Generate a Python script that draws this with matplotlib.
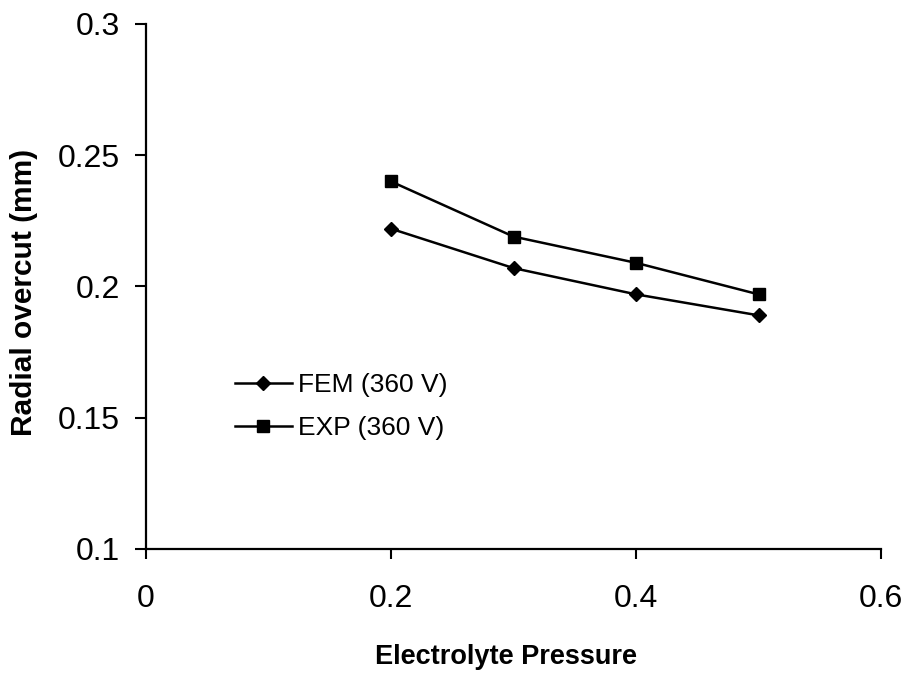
import matplotlib.pyplot as plt

plt.rcParams['font.family'] = ['Liberation Sans', 'DejaVu Sans']

pressure = [0.2, 0.3, 0.4, 0.5]
fem_overcut = [0.222, 0.207, 0.197, 0.189]
exp_overcut = [0.240, 0.219, 0.209, 0.197]

fig = plt.figure(figsize=(9.11, 6.79), dpi=100)
ax = fig.add_axes([0.1603, 0.1915, 0.8068, 0.7732])

ax.plot(pressure, fem_overcut, color='black', lw=1.8, marker='D', ms=7, label='FEM (360 V)')
ax.plot(pressure, exp_overcut, color='black', lw=1.8, marker='s', ms=8, label='EXP (360 V)')

ax.set_xlim(0, 0.6)
ax.set_ylim(0.1, 0.3)
ax.set_xticks([0, 0.2, 0.4, 0.6])
ax.set_xticklabels(['0', '0.2', '0.4', '0.6'])
ax.set_yticks([0.1, 0.15, 0.2, 0.25, 0.3])
ax.set_yticklabels(['0.1', '0.15', '0.2', '0.25', '0.3'])

ax.spines['top'].set_visible(False)
ax.spines['right'].set_visible(False)
for s in ['left', 'bottom']:
    ax.spines[s].set_linewidth(1.6)
ax.tick_params(axis='x', labelsize=23, width=1.5, length=7, pad=18)
ax.tick_params(axis='y', labelsize=23, width=1.5, length=8, pad=11)

ax.set_xlabel('Electrolyte Pressure', fontsize=19.5, fontweight='bold', va='center')
ax.xaxis.set_label_coords(0.49, -0.206)
ax.set_ylabel('Radial overcut (mm)', fontsize=21.5, fontweight='bold', va='center')
ax.yaxis.set_label_coords(-0.166, 0.488)

ax.legend(loc='upper left', bbox_to_anchor=(0.121, 0.335), frameon=False,
          fontsize=19, borderpad=0, borderaxespad=0,
          handlelength=2.15, handletextpad=0.23, labelspacing=0.72)

fig.savefig('out.png', dpi=100)
